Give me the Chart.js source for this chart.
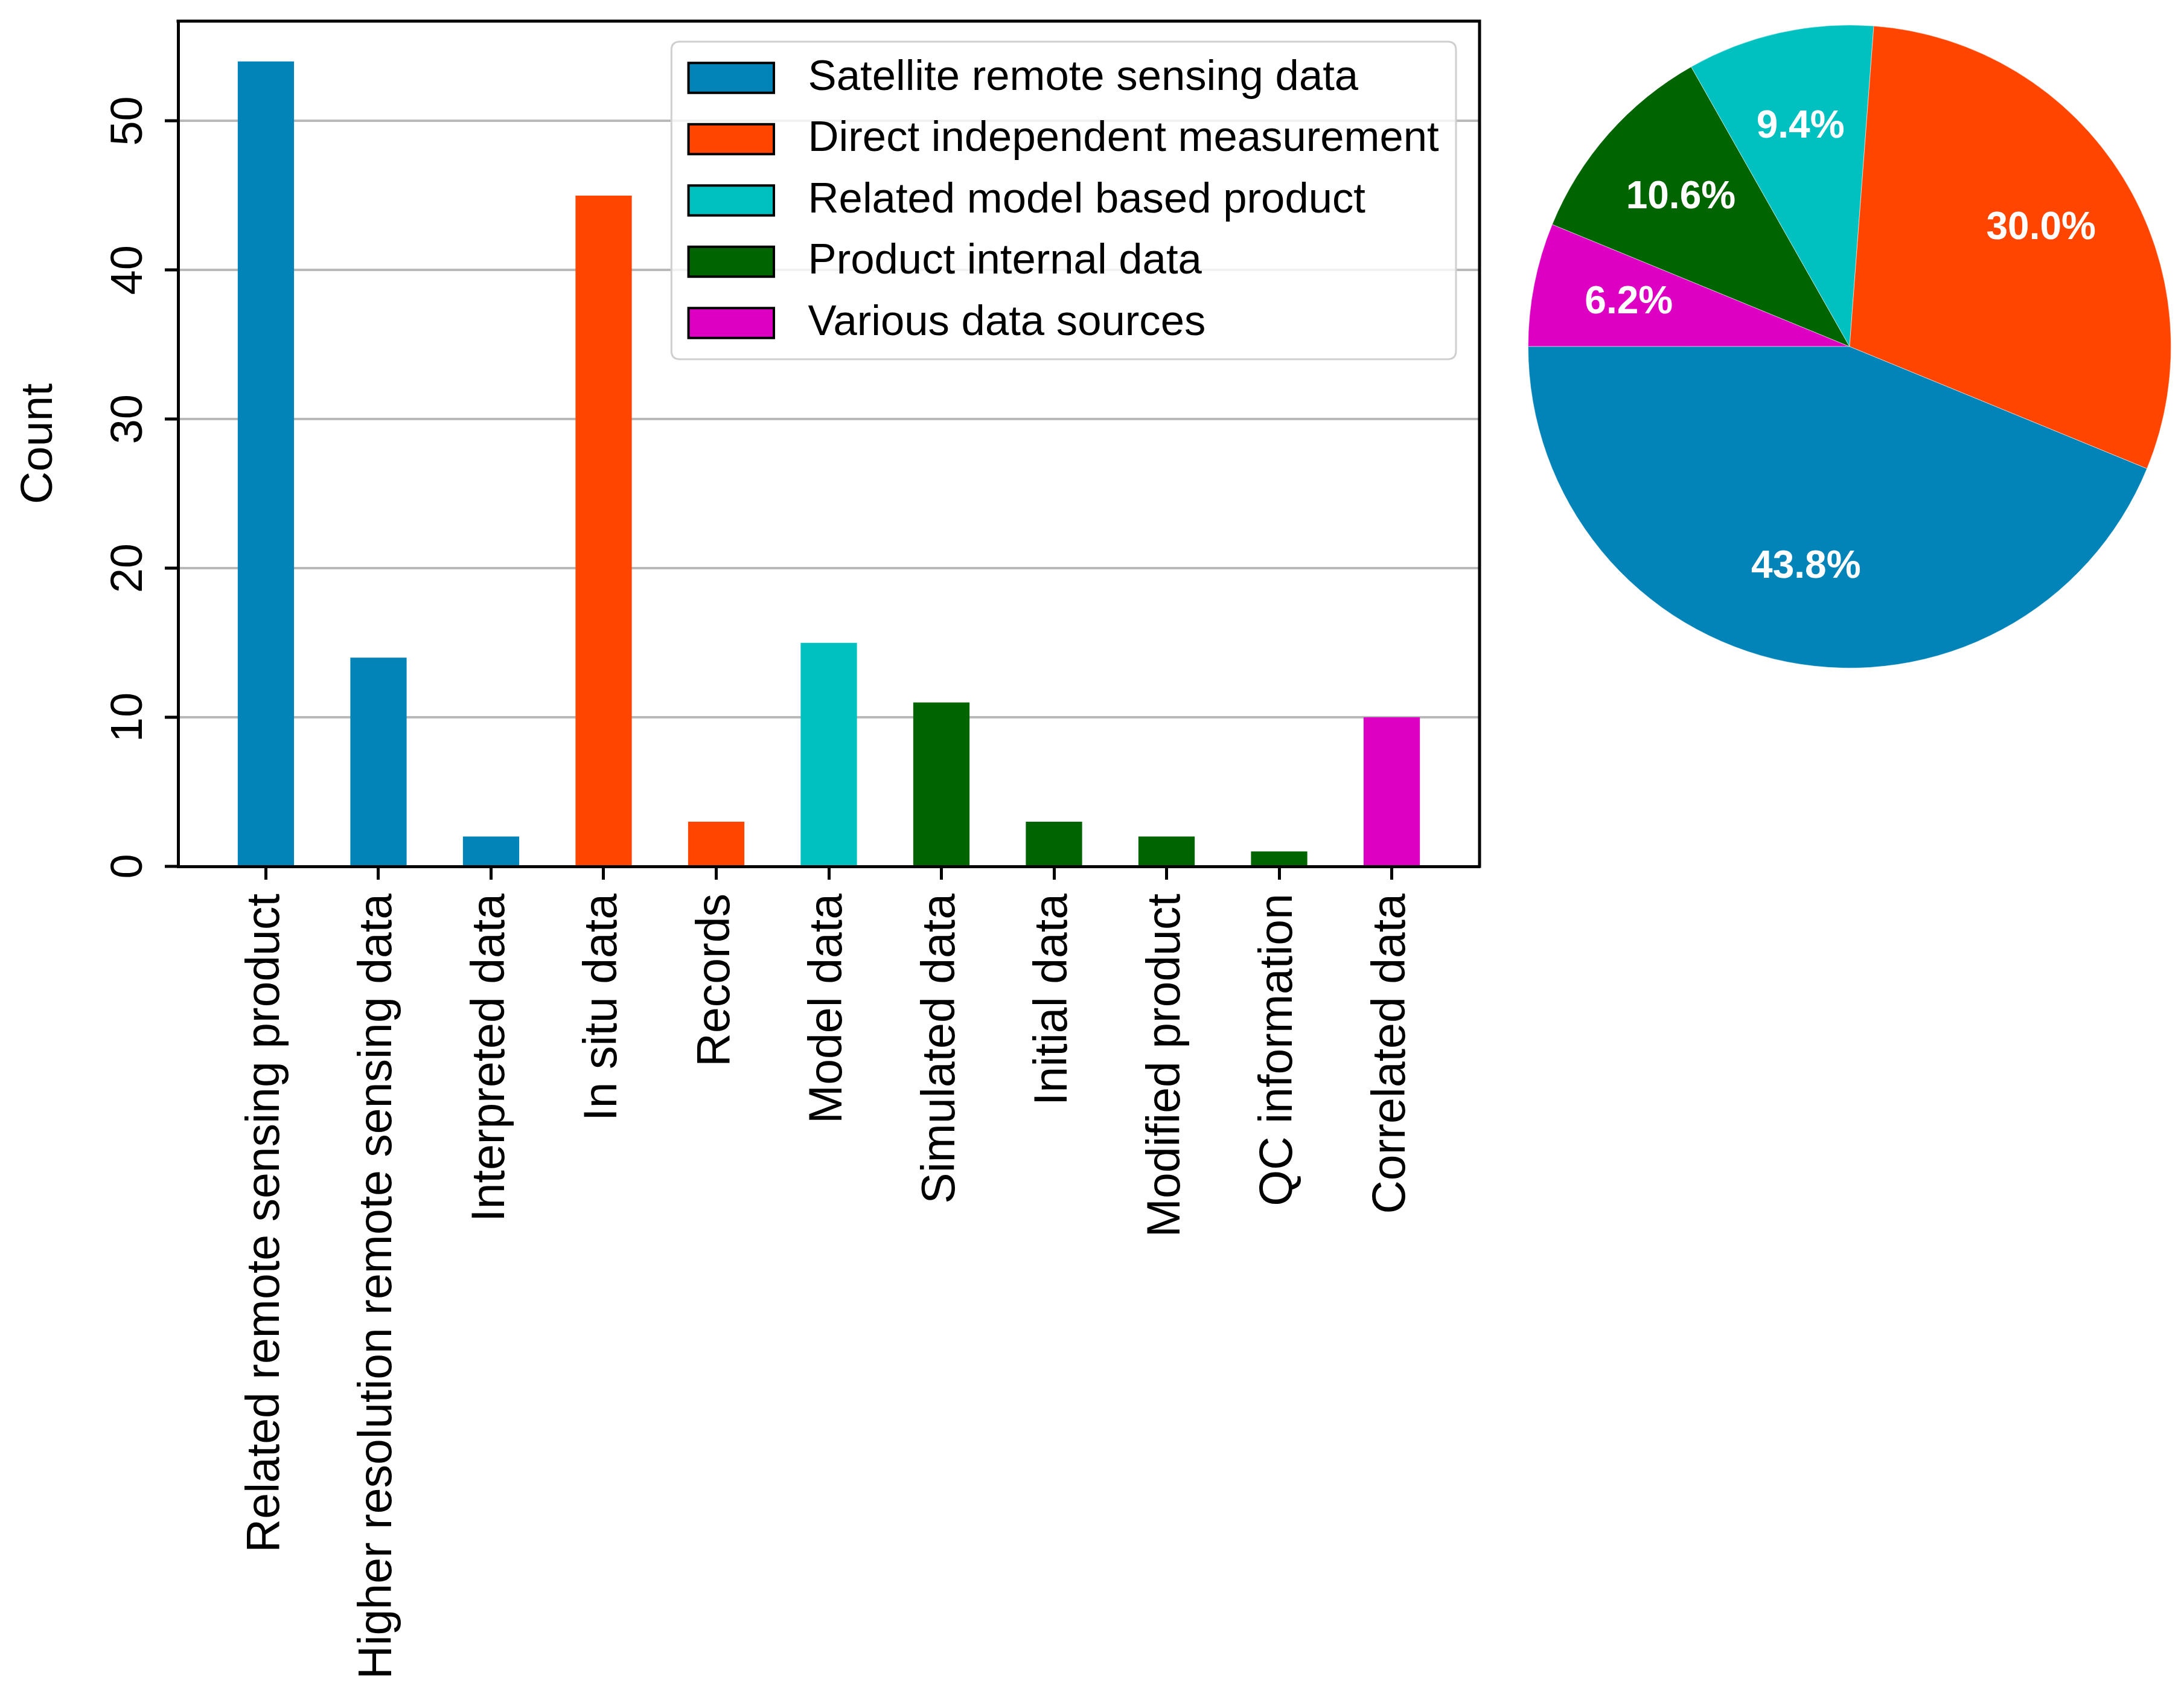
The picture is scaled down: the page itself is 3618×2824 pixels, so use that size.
<!DOCTYPE html>
<html>
<head>
<meta charset="utf-8">
<script src="https://cdn.jsdelivr.net/npm/chart.js@4.4.1/dist/chart.umd.min.js"></script>
<style>
  html, body { margin:0; padding:0; background:#ffffff; width:3618px; height:2824px; overflow:hidden; }
  #barBox { position:absolute; left:0; top:0; width:2500px; height:2824px; }
  #pieBox { position:absolute; left:2531px; top:41px; width:1066px; height:1066px; }
</style>
</head>
<body>
<div id="barBox"><canvas id="barCanvas"></canvas></div>
<div id="pieBox"><canvas id="pieCanvas"></canvas></div>
<script>
// ---------------- data ----------------
const categories = [
  "Related remote sensing product",
  "Higher resolution remote sensing data",
  "Interpreted data",
  "In situ data",
  "Records",
  "Model data",
  "Simulated data",
  "Initial data",
  "Modified product",
  "QC information",
  "Correlated data"
];
const counts = [54, 14, 2, 45, 3, 15, 11, 3, 2, 1, 10];
const categoryGroup = [0, 0, 0, 1, 1, 2, 3, 3, 3, 3, 4];
const groupNames = [
  "Satellite remote sensing data",
  "Direct independent measurement",
  "Related model based product",
  "Product internal data",
  "Various data sources"
];
const groupColors = ["#0384B8", "#FF4500", "#00C0C0", "#006400", "#DE00C2"];
const pieShares = [43.8, 30.0, 9.4, 10.6, 6.2];   // percent, same order as groupNames
const yTicks = [0, 10, 20, 30, 40, 50];
const yMax = 56.7;
const xMin = -0.78, xMax = 10.78;

const FONT = '"Liberation Sans", Arial, Helvetica, sans-serif';
Chart.defaults.font.family = FONT;
Chart.defaults.color = '#000';

// ---------------- bar chart ----------------
const barDatasets = groupNames.map((name, g) => ({
  label: name,
  data: categories.map((c, i) => ({ x: i, y: counts[i], g: categoryGroup[i] }))
                  .filter(p => p.g === g),
  backgroundColor: groupColors[g],
  borderWidth: 0,
  grouped: false,
  barPercentage: 0.5,
  categoryPercentage: 1.0
}));

const framePlugin = {
  id: 'frame',
  afterDraw(chart) {
    const { ctx, chartArea: a } = chart;
    ctx.save();
    ctx.strokeStyle = '#000';
    ctx.lineWidth = 5;
    ctx.beginPath();
    ctx.moveTo(a.left - 2.5, a.top);
    ctx.lineTo(a.right, a.top);
    ctx.lineTo(a.right, a.bottom + 2.5);
    ctx.stroke();
    ctx.restore();
  }
};

function roundRectPath(ctx, x, y, w, h, r) {
  ctx.beginPath();
  ctx.moveTo(x + r, y);
  ctx.lineTo(x + w - r, y);
  ctx.quadraticCurveTo(x + w, y, x + w, y + r);
  ctx.lineTo(x + w, y + h - r);
  ctx.quadraticCurveTo(x + w, y + h, x + w - r, y + h);
  ctx.lineTo(x + r, y + h);
  ctx.quadraticCurveTo(x, y + h, x, y + h - r);
  ctx.lineTo(x, y + r);
  ctx.quadraticCurveTo(x, y, x + r, y);
  ctx.closePath();
}

const legendPlugin = {
  id: 'mplLegend',
  afterDraw(chart) {
    const { ctx, chartArea: a } = chart;
    const fs = 70.7;
    const pad = 0.4 * fs, hl = 2.0 * fs, hh = 0.7 * fs, htp = 0.8 * fs;
    const rowH = 101.5, edge = 60;
    ctx.save();
    ctx.font = fs + 'px ' + FONT;
    const items = chart.data.datasets.map(d => ({ text: d.label, color: d.backgroundColor }));
    const maxW = Math.max(...items.map(it => ctx.measureText(it.text).width));
    const w = pad + hl + htp + maxW + pad;
    const h = 2 * edge + (items.length - 1) * rowH;
    const right = a.right - 39, top = a.top + 34;
    const left = right - w;
    roundRectPath(ctx, left, top, w, h, 14);
    ctx.fillStyle = 'rgba(255,255,255,0.8)';
    ctx.fill();
    ctx.strokeStyle = '#cfcfcf';
    ctx.lineWidth = 3;
    ctx.stroke();
    items.forEach((it, i) => {
      const cy = top + edge + i * rowH;
      ctx.fillStyle = it.color;
      ctx.fillRect(left + pad, cy - hh / 2, hl, hh);
      ctx.strokeStyle = '#000';
      ctx.lineWidth = 4;
      ctx.strokeRect(left + pad, cy - hh / 2, hl, hh);
      ctx.fillStyle = '#000';
      ctx.textAlign = 'left';
      ctx.textBaseline = 'middle';
      ctx.fillText(it.text, left + pad + hl + htp, cy);
    });
    ctx.restore();
  }
};

new Chart(document.getElementById('barCanvas'), {
  type: 'bar',
  data: { datasets: barDatasets },
  options: {
    responsive: true,
    maintainAspectRatio: false,
    devicePixelRatio: 1,
    animation: false,
    layout: { padding: { left: 0, top: 35, right: 49, bottom: 0 } },
    plugins: { legend: { display: false }, tooltip: { enabled: false } },
    scales: {
      x: {
        type: 'linear',
        min: xMin,
        max: xMax,
        offset: false,
        afterBuildTicks: s => { s.ticks = categories.map((c, i) => ({ value: i })); },
        afterFit: s => { s.height = 1389; s.paddingLeft = 0; s.paddingRight = 0; },
        ticks: {
          autoSkip: false,
          minRotation: 90,
          maxRotation: 90,
          padding: 23,
          color: '#000',
          font: { size: 77, family: FONT },
          callback: v => categories[v]
        },
        grid: { offset: false, drawOnChartArea: false, drawTicks: true, tickLength: 22, tickWidth: 5, tickColor: '#000' },
        border: { display: true, color: '#000', width: 5 }
      },
      y: {
        type: 'linear',
        min: 0,
        max: yMax,
        z: 1,
        afterBuildTicks: s => { s.ticks = yTicks.map(v => ({ value: v })); },
        afterFit: s => { s.width = 295; s.paddingTop = 0; s.paddingBottom = 0; },
        ticks: {
          minRotation: 90,
          maxRotation: 90,
          crossAlign: 'center',
          padding: 17,
          color: '#000',
          font: { size: 74, family: FONT }
        },
        grid: { color: 'rgba(155,155,155,0.7)', lineWidth: 4, drawTicks: true, tickLength: 22, tickWidth: 5, tickColor: '#000' },
        border: { display: true, color: '#000', width: 5 },
        title: { display: true, text: 'Count', color: '#000', font: { size: 75, family: FONT }, padding: { top: 20, bottom: 0 } }
      }
    }
  },
  plugins: [framePlugin, legendPlugin]
});

// ---------------- pie chart ----------------
// matplotlib draws counter-clockwise from 9 o'clock; Chart.js clockwise -> reverse order
const pieLabels = groupNames.slice().reverse();
const pieData = pieShares.slice().reverse();
const pieColors = groupColors.slice().reverse();

const pieLabelPlugin = {
  id: 'pct',
  afterDatasetsDraw(chart) {
    const { ctx } = chart;
    const meta = chart.getDatasetMeta(0);
    ctx.save();
    ctx.fillStyle = '#ffffff';
    ctx.font = 'bold 64px ' + FONT;
    ctx.textAlign = 'center';
    ctx.textBaseline = 'middle';
    meta.data.forEach((arc, i) => {
      const p = arc.getProps(['x', 'y', 'startAngle', 'endAngle', 'outerRadius'], true);
      const mid = (p.startAngle + p.endAngle) / 2;
      const r = p.outerRadius * 0.7;
      ctx.fillText(pieData[i].toFixed(1) + '%', p.x + r * Math.cos(mid), p.y + r * Math.sin(mid));
    });
    ctx.restore();
  }
};

new Chart(document.getElementById('pieCanvas'), {
  type: 'pie',
  data: {
    labels: pieLabels,
    datasets: [{ data: pieData, backgroundColor: pieColors, borderWidth: 1, borderColor: 'rgba(255,255,255,0.5)' }]
  },
  options: {
    responsive: true,
    maintainAspectRatio: false,
    devicePixelRatio: 1,
    animation: false,
    rotation: -90,
    layout: { padding: 0 },
    plugins: { legend: { display: false }, tooltip: { enabled: false } }
  },
  plugins: [pieLabelPlugin]
});
</script>
</body>
</html>
